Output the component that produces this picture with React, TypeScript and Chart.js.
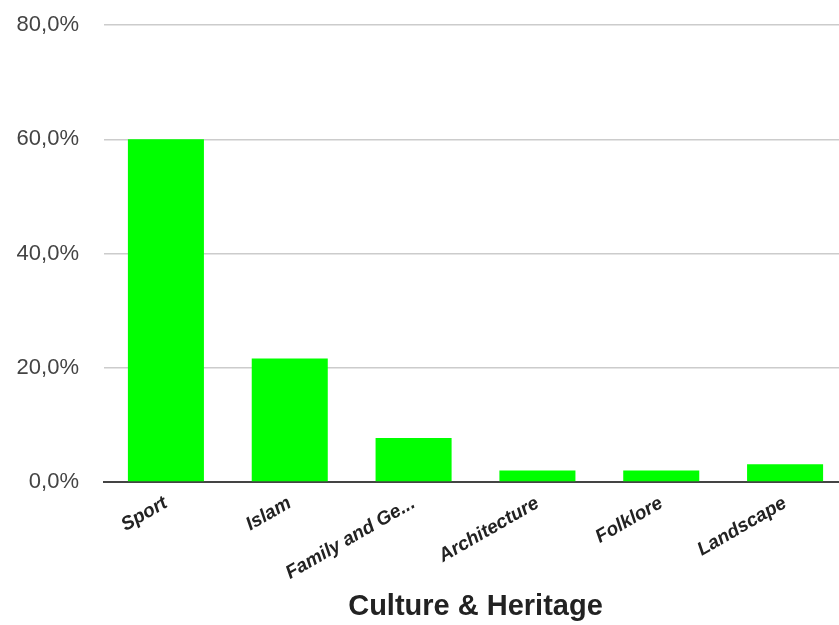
import React, { useEffect, useRef } from "react";
import { Chart, registerables } from "chart.js";

Chart.register(...registerables);

const categories = ["Sport", "Islam", "Family and Ge...", "Architecture", "Folklore", "Landscape"];
const shares = [60.0, 21.6, 7.7, 2.0, 2.0, 3.1];
const yTicks = [0, 20, 40, 60, 80];
const axisTitle = "Culture & Heritage";

export default function App() {
  const ref = useRef<HTMLCanvasElement>(null);
  useEffect(() => {
    if (!ref.current) return;
    const chart = new Chart(ref.current, {
      type: "bar",
      data: {
        labels: categories,
        datasets: [
          {
            data: shares,
            backgroundColor: "#00ff00",
            borderWidth: 0,
            categoryPercentage: 1,
            barPercentage: 0.614,
          },
        ],
      },
      options: {
        animation: false,
        responsive: false,
        maintainAspectRatio: false,
        layout: { padding: { left: 0, right: 3, top: 25, bottom: 1 } },
        plugins: { legend: { display: false }, tooltip: { enabled: false } },
        scales: {
          x: {
            grid: { display: false, drawTicks: false },
            border: { display: true, color: "#444", width: 2 },
            ticks: {
              minRotation: 30,
              maxRotation: 30,
              autoSkip: false,
              padding: 10,
              color: "#222",
              font: { family: "'Liberation Sans', Arial", size: 19, style: "italic", weight: "bold" },
            },
            title: {
              display: true,
              text: axisTitle,
              color: "#222",
              padding: { top: 0, bottom: 0 },
              font: { family: "'Liberation Sans', Arial", size: 29, weight: "bold" },
            },
            afterFit: (scale: any) => {
              scale.height = 625 - 1 - 482;
            },
          },
          y: {
            min: 0,
            max: 80,
            afterBuildTicks: (scale: any) => {
              scale.ticks = yTicks.map((v) => ({ value: v }));
            },
            grid: {
              drawTicks: true,
              tickLength: 25,
              tickColor: "rgba(0,0,0,0)",
              color: (ctx: any) => (ctx.tick && ctx.tick.value === 0 ? "rgba(0,0,0,0)" : "#cccccc"),
              lineWidth: 1.5,
            },
            border: { display: false },
            ticks: {
              padding: 0,
              color: "#444",
              font: { family: "'Liberation Sans', Arial", size: 22 },
              callback: (v: any) => Number(v).toFixed(1).replace(".", ",") + "%",
            },
            afterFit: (scale: any) => {
              scale.width = 104;
            },
          },
        },
      },
    });
    return () => chart.destroy();
  }, []);
  return (
    <div style={{ position: "fixed", left: 0, top: 0, width: 839, height: 625, overflow: "hidden", background: "#fff" }}>
      <canvas ref={ref} width={850} height={625} style={{ display: "block" }} />
    </div>
  );
}
